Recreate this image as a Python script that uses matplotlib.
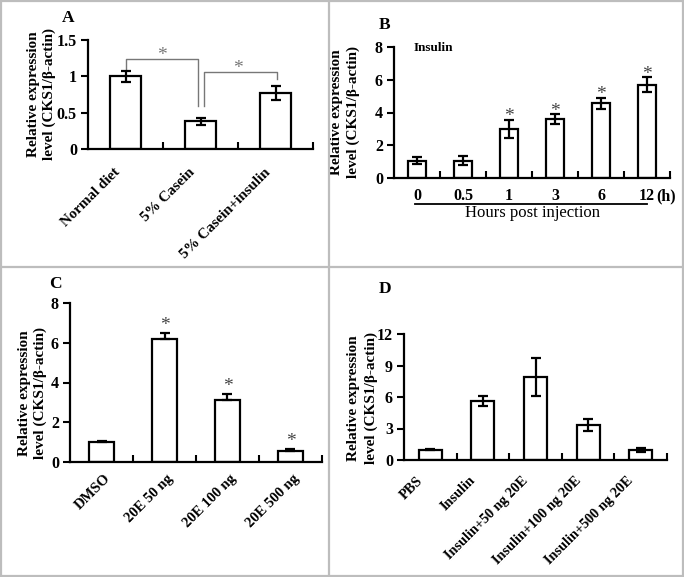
import numpy as np
import matplotlib
matplotlib.use("Agg")
import matplotlib.pyplot as plt
from matplotlib.lines import Line2D
from matplotlib.transforms import ScaledTranslation, blended_transform_factory

plt.rcParams['font.family'] = ['Liberation Serif', 'DejaVu Serif']

# ---- data ----
a_labels = ['Normal diet', '5% Casein', '5% Casein+insulin']
a_vals = [1.0, 0.38, 0.77]
a_err = [0.08, 0.05, 0.10]

b_labels = ['0', '0.5', '1', '3', '6', '12']
b_vals = [1.05, 1.05, 3.0, 3.6, 4.55, 5.7]
b_err = [0.22, 0.27, 0.55, 0.3, 0.35, 0.45]
b_sig = [False, False, True, True, True, True]

c_labels = ['DMSO', '20E 50 ng', '20E 100 ng', '20E 500 ng']
c_vals = [1.0, 6.2, 3.12, 0.57]
c_err = [0.07, 0.3, 0.3, 0.08]
c_sig = [False, True, True, True]

d_labels = ['PBS', 'Insulin', 'Insulin+50 ng 20E', 'Insulin+100 ng 20E', 'Insulin+500 ng 20E']
d_vals = [1.0, 5.62, 7.9, 3.35, 0.92]
d_err = [0.05, 0.45, 1.8, 0.6, 0.18]

W, H = 684, 577
fig = plt.figure(figsize=(W / 100, H / 100), dpi=100)

YLABEL = 'Relative expression\nlevel (CKS1/\u03b2-actin)'


def px_axes(l, r, t, b):
    return fig.add_axes([l / W, 1 - b / H, (r - l) / W, (b - t) / H])


def setup(ax, n, ylim, yticks, yticklabels):
    ax.set_xlim(-0.5, n - 0.5)
    ax.set_ylim(*ylim)
    for s in ['top', 'right']:
        ax.spines[s].set_visible(False)
    for s in ['left', 'bottom']:
        ax.spines[s].set_linewidth(1.6)
    ax.set_xticks(np.arange(n) + 0.5)
    ax.set_xticklabels([])
    ax.tick_params(axis='x', which='major', direction='in', length=5, width=1.5)
    ax.set_yticks(yticks, yticklabels)
    ax.tick_params(axis='y', direction='out', length=5, width=1.5, pad=3)
    for t in ax.get_yticklabels():
        t.set_fontsize(11.5)
        t.set_fontweight('bold')


def bars(ax, vals, err, width, upper_only=False):
    x = np.arange(len(vals))
    yerr = [np.zeros(len(err)), err] if upper_only else err
    ax.bar(x, vals, width=width, color='white', edgecolor='black', linewidth=1.6, zorder=2)
    ax.errorbar(x, vals, yerr=yerr, fmt='none', ecolor='black', elinewidth=1.6,
                capsize=3.5, capthick=1.6, zorder=3)


def rot_labels(ax, labels, dx_px, pad, size=10.8):
    ax.set_xticks(np.arange(len(labels)), labels, minor=True)
    ax.tick_params(axis='x', which='minor', length=0, pad=pad)
    off = ScaledTranslation(dx_px / 100, 0, fig.dpi_scale_trans)
    for t in ax.get_xticklabels(minor=True):
        t.set_rotation(45)
        t.set_ha('right')
        t.set_va('top')
        t.set_rotation_mode('anchor')
        t.set_fontsize(size)
        t.set_fontweight('bold')
        t.set_transform(t.get_transform() + off)


def ylabel(ax, x, y, ls=1.3):
    ax.set_ylabel(YLABEL, fontsize=11, fontweight='bold', linespacing=ls)
    ax.yaxis.set_label_coords(x, y)


def stars(ax, vals, err, sig, dy):
    for i, (v, e, s) in enumerate(zip(vals, err, sig)):
        if s:
            ax.annotate('*', xy=(i, v + e), xytext=(0, dy), textcoords='offset points',
                        ha='center', va='baseline', fontsize=14, color='#444444')


# ---- Panel A ----
axA = px_axes(88, 313, 40, 149)
setup(axA, 3, (0, 1.5), [0, 0.5, 1, 1.5], ['0', '0.5', '1', '1.5'])
bars(axA, a_vals, a_err, 0.41)
rot_labels(axA, a_labels, -12, 12)
ylabel(axA, -0.14, 0.5)
gcol = '#777777'
top1 = a_vals[0] + a_err[0]
axA.plot([0, 0, 0.97, 0.97], [top1 + 0.02, 1.24, 1.24, 0.59], color=gcol, lw=1.0, clip_on=False)
axA.plot([1.05, 1.05, 2.02, 2.02], [0.59, 1.06, 1.06, a_vals[2] + a_err[2] + 0.1], color=gcol, lw=1.0,
         clip_on=False)
axA.text(0.48, 1.22, '*', ha='center', va='baseline', fontsize=14, color=gcol)
axA.text(1.5, 1.04, '*', ha='center', va='baseline', fontsize=14, color=gcol)

# ---- Panel B ----
axB = px_axes(394, 670, 47, 178)
setup(axB, 6, (0, 8), [0, 2, 4, 6, 8], ['0', '2', '4', '6', '8'])
bars(axB, b_vals, b_err, 0.4)
stars(axB, b_vals, b_err, b_sig, -1)
axB.set_xticks(np.arange(len(b_labels)), b_labels, minor=True)
axB.tick_params(axis='x', which='minor', length=0, pad=7)
for t in axB.get_xticklabels(minor=True):
    t.set_fontsize(11.5)
    t.set_fontweight('bold')
ylabel(axB, -0.123, 0.5)
trB = blended_transform_factory(axB.transData, axB.transAxes)
axB.plot([-0.05, 5.0], [-0.198, -0.198], transform=trB, color='black', lw=1.3, clip_on=False)
axB.text(5.2, -0.14, '(h)', transform=trB, ha='left', va='center', fontsize=11.5, fontweight='bold')
axB.text(2.52, -0.27, 'Hours post injection', transform=trB, ha='center', va='center', fontsize=12)
axB.text(0.072, 0.99, 'Insulin', transform=axB.transAxes, ha='left', va='center',
         fontsize=9.5, fontweight='bold')

# ---- Panel C ----
axC = px_axes(70, 322, 303, 462)
setup(axC, 4, (0, 8), [0, 2, 4, 6, 8], ['0', '2', '4', '6', '8'])
bars(axC, c_vals, c_err, 0.41, upper_only=True)
stars(axC, c_vals, c_err, c_sig, 2)
rot_labels(axC, c_labels, 2, 7, size=10.5)
ylabel(axC, -0.09, 0.434)

# ---- Panel D ----
axD = px_axes(404, 667, 334, 460)
setup(axD, 5, (0, 12), [0, 3, 6, 9, 12], ['0', '3', '6', '9', '12'])
bars(axD, d_vals, d_err, 0.44)
rot_labels(axD, d_labels, -14, 10, size=10.3)
ylabel(axD, -0.1, 0.49, ls=1.4)

# ---- panel letters ----
for s, (x, y) in zip('ABCD', [(68, 18), (385, 25), (55, 284), (385, 289)]):
    fig.text(x / W, 1 - y / H, s, ha='center', va='center', fontsize=12.5, fontweight='bold')

# ---- grey frame ----
fcol = '#bdbdbd'
frame = [((1, 1), (1, 576)), ((683, 683), (1, 576)), ((1, 683), (1, 1)), ((1, 683), (576, 576)),
         ((329, 329), (1, 576)), ((1, 683), (267, 267))]
for xs, ys in frame:
    fig.add_artist(Line2D([x / W for x in xs], [1 - y / H for y in ys], color=fcol, lw=1.6,
                          transform=fig.transFigure))

fig.savefig('out.png', dpi=100)
